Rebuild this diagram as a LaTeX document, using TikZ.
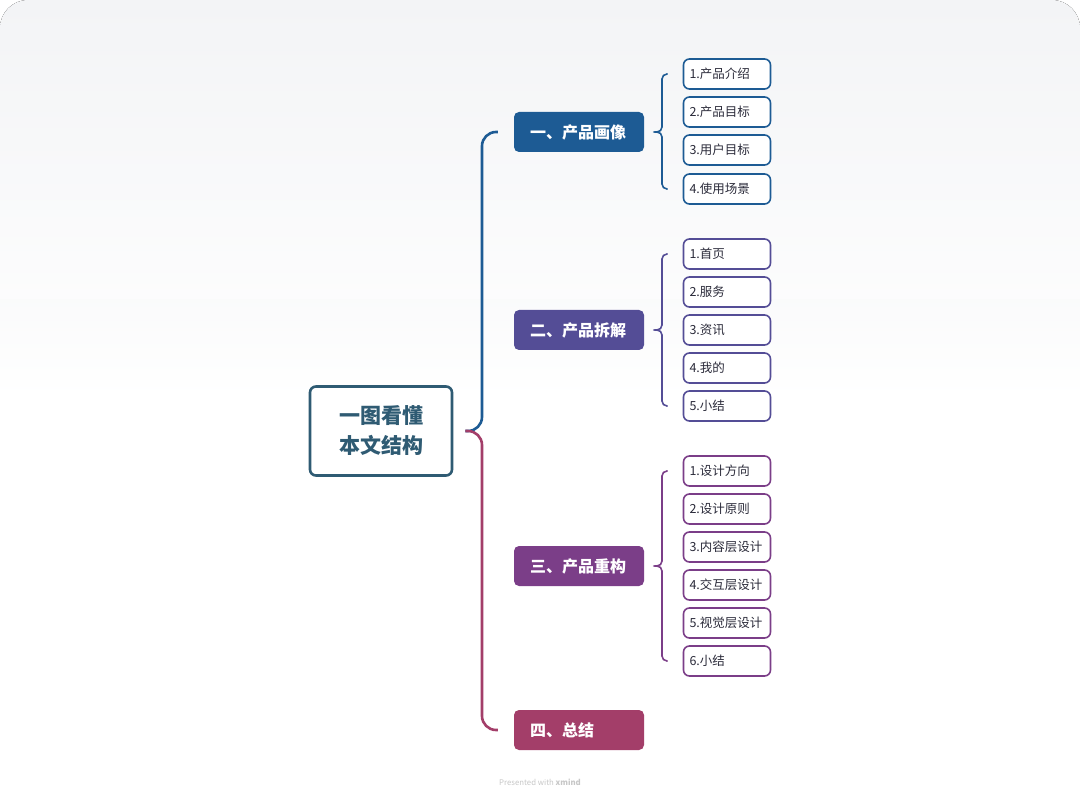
\documentclass[tikz,border=0pt]{standalone}
\usepackage{fontspec}
\setmainfont{Noto Sans CJK SC}
\usetikzlibrary{calc}
\definecolor{cRoot}{HTML}{2F5B73}
\definecolor{cA}{HTML}{1D5B94}
\definecolor{cB}{HTML}{544D96}
\definecolor{cC}{HTML}{7B3E88}
\definecolor{cD}{HTML}{A33E69}
\definecolor{cTxt}{HTML}{2B2B3A}
\definecolor{cBg}{HTML}{F3F4F6}
\tikzset{
  rootbox/.style={draw=cRoot, line width=2.6pt, rounded corners=6pt, fill=white,
    minimum width=142pt, minimum height=89pt, align=center, text=cRoot,
    font=\fontsize{21}{30}\selectfont\bfseries},
  branchbox/.style={fill=#1, rounded corners=5pt, minimum height=40pt,
    text width=98pt, align=left, inner xsep=16pt, inner ysep=0pt,
    text=white, font=\fontsize{16}{18}\selectfont\bfseries},
  leafbox/.style={draw=#1, line width=1.6pt, rounded corners=6pt, fill=white,
    minimum width=87pt, minimum height=30pt, text width=75pt, align=left,
    inner xsep=6pt, inner ysep=0pt, text=cTxt, font=\fontsize{12.5}{14}\selectfont},
  mainline/.style={draw=#1, line width=2.6pt, rounded corners=14pt},
  leafline/.style={draw=#1, line width=1.6pt, rounded corners=5pt}
}
\begin{document}
\begin{tikzpicture}[x=1pt,y=-1pt]
\useasboundingbox (0,0) rectangle (1080,810);
\fill[top color=cBg, bottom color=white, rounded corners=28pt] (0,0) rectangle (1080,400);
\fill[white] (0,400) rectangle (1080,810);
\fill[top color=cBg!40, bottom color=white] (0,300) rectangle (1080,400);

\node[rootbox] (root) at (381,431) {一图看懂\\本文结构};

\node[branchbox=cA] (b1) at (579,132) {一、产品画像};
\node[branchbox=cB] (b2) at (579,330) {二、产品拆解};
\node[branchbox=cC] (b3) at (579,566) {三、产品重构};
\node[branchbox=cD] (b4) at (579,730) {四、总结};

% main connectors
\coordinate (rt) at ($(root.east)+(12,0)$);
\draw[mainline=cA] (rt) -- (482,431) -- (482,132) -- ($(b1.west)+(-16,0)$);
\draw[mainline=cD] (rt) -- (482,431) -- (482,730) -- ($(b4.west)+(-16,0)$);

% branch 1 leaves
\node[leafbox=cA] (a1) at (727,74) {1.产品介绍};
\node[leafbox=cA] (a2) at (727,112) {2.产品目标};
\node[leafbox=cA] (a3) at (727,150) {3.用户目标};
\node[leafbox=cA] (a4) at (727,189) {4.使用场景};
\coordinate (t1) at ($(b1.east)+(13,0)$);
\draw[leafline=cA] (t1) -- (662,132) -- (662,74) -- ($(a1.west)+(-15,0)$);
\draw[leafline=cA] (t1) -- (662,132) -- (662,189) -- ($(a4.west)+(-15,0)$);

% branch 2 leaves
\node[leafbox=cB] (p1) at (727,254) {1.首页};
\node[leafbox=cB] (p2) at (727,292) {2.服务};
\node[leafbox=cB] (p3) at (727,330) {3.资讯};
\node[leafbox=cB] (p4) at (727,368) {4.我的};
\node[leafbox=cB] (p5) at (727,406) {5.小结};
\coordinate (t2) at ($(b2.east)+(13,0)$);
\draw[leafline=cB] (t2) -- (662,330) -- (662,254) -- ($(p1.west)+(-15,0)$);
\draw[leafline=cB] (t2) -- (662,330) -- (662,406) -- ($(p5.west)+(-15,0)$);

% branch 3 leaves
\node[leafbox=cC] (q1) at (727,471) {1.设计方向};
\node[leafbox=cC] (q2) at (727,509) {2.设计原则};
\node[leafbox=cC] (q3) at (727,547) {3.内容层设计};
\node[leafbox=cC] (q4) at (727,585) {4.交互层设计};
\node[leafbox=cC] (q5) at (727,623) {5.视觉层设计};
\node[leafbox=cC] (q6) at (727,661) {6.小结};
\coordinate (t3) at ($(b3.east)+(13,0)$);
\draw[leafline=cC] (t3) -- (662,566) -- (662,471) -- ($(q1.west)+(-15,0)$);
\draw[leafline=cC] (t3) -- (662,566) -- (662,661) -- ($(q6.west)+(-15,0)$);

\node[text=black!22, font=\fontsize{7.8}{9}\selectfont] (foot) at (540,782) {Presented with \textbf{xmind}};
\end{tikzpicture}
\end{document}
